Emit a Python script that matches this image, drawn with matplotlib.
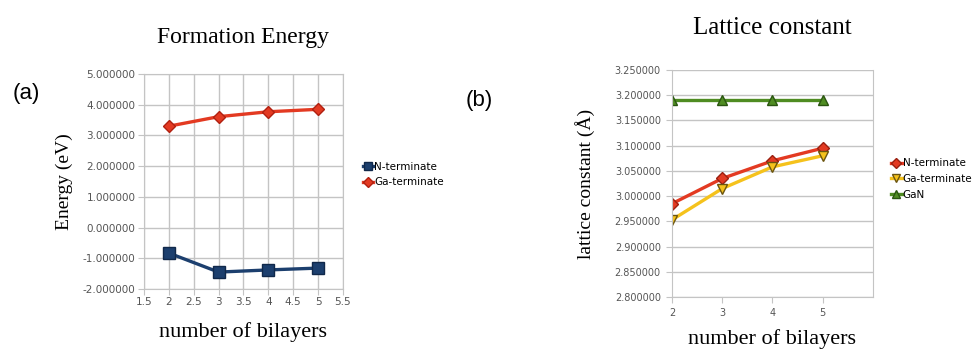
import numpy as np
import matplotlib.pyplot as plt
from matplotlib.ticker import FormatStrFormatter, MultipleLocator

# (a) formation energy vs number of bilayers
layers = [2, 3, 4, 5]
e_n_term = [-0.83, -1.45, -1.38, -1.32]
e_ga_term = [3.30, 3.61, 3.77, 3.85]

# (b) lattice constant vs number of bilayers
a_n_term = [2.985, 3.035, 3.070, 3.095]
a_ga_term = [2.953, 3.015, 3.058, 3.080]
a_gan = [3.190, 3.190, 3.190, 3.190]

navy = '#1c3f6e'
red = '#e33a22'
yellow = '#f5c21c'
green = '#4f8c22'
grid_col = '#c4c4c4'
tick_col = '#555555'
serif = ['Liberation Serif', 'DejaVu Serif']

fig = plt.figure(figsize=(9.79, 3.49), dpi=100)
fig.patch.set_facecolor('white')

# ---- left plot ----
ax1 = fig.add_axes([0.147, 0.172, 0.2033, 0.616])
ax1.plot(layers, e_n_term, '-s', color=navy, lw=2.4, ms=8,
         mec='#10284a', label='N-terminate')
ax1.plot(layers, e_ga_term, '-D', color=red, lw=2.4, ms=6,
         mec='#b02010', label='Ga-terminate')
ax1.set_xlim(1.5, 5.5)
ax1.set_ylim(-2, 5)
ax1.xaxis.set_major_locator(MultipleLocator(0.5))
ax1.yaxis.set_major_locator(MultipleLocator(1))
ax1.xaxis.set_major_formatter(FormatStrFormatter('%g'))
ax1.yaxis.set_major_formatter(FormatStrFormatter('%.6f'))
ax1.grid(True, color=grid_col, lw=1)
ax1.set_axisbelow(True)
for s in ax1.spines.values():
    s.set_color(grid_col)
ax1.tick_params(colors=grid_col, labelcolor=tick_col, labelsize=7.5,
                length=4, direction='out', pad=2)
ax1.set_title('Formation Energy', family=serif, fontsize=17, pad=22)
ax1.set_xlabel('number of bilayers', family=serif, fontsize=16, labelpad=11)
ax1.set_ylabel('Energy (eV)', family=serif, fontsize=14, labelpad=7)
ax1.legend(loc='upper left', bbox_to_anchor=(1.08, 0.61), frameon=False,
           fontsize=7.5, handlelength=1.0, handletextpad=0.1,
           labelspacing=0.5, borderaxespad=0, markerscale=0.8)

# ---- right plot ----
ax2 = fig.add_axes([0.6864, 0.149, 0.2053, 0.6504])
ax2.plot(layers, a_n_term, '-D', color=red, lw=2.4, ms=6.5,
         mec='#9a2010', label='N-terminate')
ax2.plot(layers, a_ga_term, '-v', color=yellow, lw=2.4, ms=7,
         mec='#6b5510', label='Ga-terminate')
ax2.plot(layers, a_gan, '-^', color=green, lw=2.4, ms=7,
         mec='#2a5510', label='GaN')
ax2.set_xlim(2, 6)
ax2.set_ylim(2.8, 3.25)
ax2.set_xticks(layers)
ax2.yaxis.set_major_locator(MultipleLocator(0.05))
ax2.yaxis.set_major_formatter(FormatStrFormatter('%.6f'))
ax2.grid(True, axis='y', color=grid_col, lw=1)
ax2.set_axisbelow(True)
ax2.spines['top'].set_visible(False)
for s in ax2.spines.values():
    s.set_color(grid_col)
ax2.tick_params(colors=grid_col, labelcolor=tick_col, labelsize=7,
                length=4, direction='out', pad=4)
ax2.set_title('Lattice constant', family=serif, fontsize=18, pad=26)
ax2.set_xlabel('number of bilayers', family=serif, fontsize=16, labelpad=8)
ax2.set_ylabel('lattice constant (Å)', family=serif, fontsize=14, labelpad=14)
ax2.legend(loc='upper left', bbox_to_anchor=(1.07, 0.63), frameon=False,
           fontsize=7.5, handlelength=1.0, handletextpad=0.1,
           labelspacing=0.55, borderaxespad=0, markerscale=0.75)

# panel letters
fig.text(0.027, 0.733, '(a)', family=['Liberation Sans', 'DejaVu Sans'],
         fontsize=16, ha='center', va='center')
fig.text(0.490, 0.713, '(b)', family=['Liberation Sans', 'DejaVu Sans'],
         fontsize=16, ha='center', va='center')

fig.savefig('out.png', dpi=100)
